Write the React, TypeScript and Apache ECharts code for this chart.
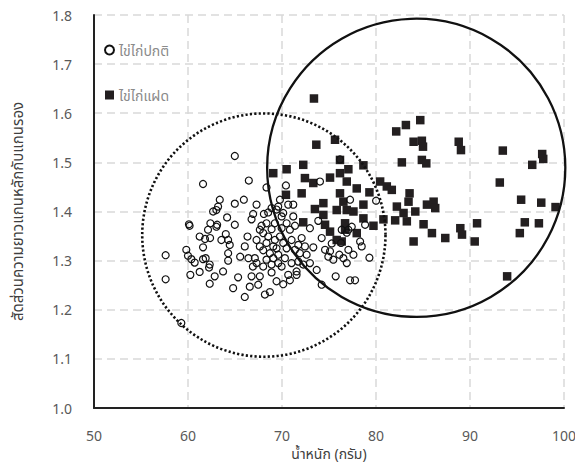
import React, { useEffect, useRef } from "react";
import * as echarts from "echarts";

const xTicks = { min: 50, max: 100, interval: 10 };
const yTicks = { min: 1.0, max: 1.8, interval: 0.1 };

const seriesNames = ["ไข่ไก่ปกติ", "ไข่ไก่แฝด"];
const xAxisName = "น้ำหนัก (กรัม)";
const yAxisName = "สัดส่วนความยาวแกนหลักกับแกนรอง";

// normal eggs: [weight, ratio]
const normalEggs = [
  [64.98,1.513],[61.6,1.456],[66.47,1.463],[57.62,1.311],[57.62,1.262],[59.29,1.173],[60.1,1.374],[60.17,1.371],
  [68.35,1.449],[70.42,1.453],[74.04,1.461],[76.17,1.506],[80.01,1.422],[79.3,1.306],[77.24,1.26],[77.77,1.26],
  [75.71,1.268],[74.22,1.251],[66.04,1.226],[68.18,1.231],[68.71,1.236],[64.8,1.244],[62.31,1.253],[60.25,1.271],
  [61.24,1.277],[62.84,1.268],[63.73,1.278],[65.33,1.266],[66.57,1.247],[67.47,1.251],[66.76,1.268],[67.64,1.268],
  [68.89,1.276],[69.42,1.258],[70.13,1.252],[70.84,1.26],[71.55,1.278],[59.82,1.322],[60.0,1.31],[60.36,1.303],
  [60.71,1.296],[61.6,1.303],[61.88,1.305],[62.24,1.286],[61.24,1.349],[61.81,1.344],[62.35,1.346],[61.6,1.327],
  [62.13,1.363],[62.38,1.376],[62.67,1.4],[63.1,1.373],[63.2,1.41],[63.38,1.424],[63.02,1.369],[63.55,1.342],
  [64.02,1.354],[64.27,1.342],[64.44,1.332],[64.16,1.388],[64.98,1.373],[64.98,1.416],[65.94,1.424],[64.27,1.315],
  [64.27,1.3],[65.55,1.308],[66.43,1.305],[66.9,1.288],[66.04,1.329],[66.33,1.349],[66.76,1.384],[66.93,1.395],
  [67.29,1.414],[67.64,1.363],[67.82,1.371],[68.07,1.395],[68.53,1.398],[68.35,1.376],[68.89,1.364],[67.29,1.342],
  [67.64,1.329],[68.0,1.321],[68.35,1.336],[68.71,1.315],[69.07,1.305],[69.42,1.325],[69.24,1.342],[69.78,1.349],
  [70.13,1.336],[69.6,1.295],[69.96,1.288],[68.35,1.302],[67.11,1.305],[68.89,1.407],[69.6,1.41],[70.13,1.397],
  [70.66,1.414],[71.2,1.414],[69.96,1.39],[70.49,1.376],[70.84,1.363],[71.2,1.39],[71.38,1.371],[71.02,1.342],
  [70.49,1.325],[71.38,1.322],[72.09,1.346],[72.44,1.329],[71.91,1.315],[72.62,1.312],[73.33,1.327],[73.69,1.281],
  [72.97,1.295],[72.26,1.292],[71.55,1.271],[70.66,1.271],[72.97,1.366],[73.86,1.381],[74.22,1.346],[74.58,1.322],
  [74.93,1.308],[75.29,1.335],[75.46,1.302],[76.1,1.312],[76.53,1.305],[76.89,1.295],[77.06,1.322],[77.6,1.312],
  [78.48,1.329],[78.84,1.373],[76.35,1.363],[76.89,1.357],[77.24,1.424],[76.28,1.336],
  [68.0,1.356],[68.53,1.349],[69.07,1.329],[69.6,1.312],[70.31,1.305],[68.89,1.292],[68.0,1.288],[67.29,1.295],
  [71.02,1.295],[71.73,1.332],[69.96,1.366],[69.24,1.376],[69.42,1.404],[69.78,1.424],
  [77.06,1.363],[77.42,1.369],[78.31,1.339],[75.11,1.319],[71.73,1.298],[62.31,1.292],[63.02,1.403]
];

// twin-yolk eggs: [weight, ratio]
const twinEggs = [
  [73.4,1.630],[82.15,1.563],[83.18,1.576],[84.71,1.586],[84.0,1.542],[84.88,1.544],[85.0,1.532],[88.8,1.542],
  [89.04,1.525],[93.49,1.524],[97.68,1.517],[97.79,1.507],[96.62,1.495],[82.75,1.500],[84.88,1.505],[85.35,1.498],
  [73.65,1.536],[75.64,1.546],[76.17,1.505],[78.66,1.494],[72.26,1.495],[70.49,1.486],[69.07,1.478],[93.17,1.459],
  [72.44,1.468],[73.33,1.458],[75.11,1.469],[76.17,1.478],[77.06,1.486],[76.89,1.461],[77.95,1.447],[79.3,1.439],
  [80.44,1.461],[81.15,1.451],[81.68,1.444],[83.57,1.437],[70.42,1.434],[72.09,1.437],[76.17,1.437],[74.4,1.417],
  [73.5,1.405],[75.82,1.403],[76.89,1.403],[77.6,1.4],[78.66,1.414],[82.22,1.41],[83.46,1.42],[84.18,1.4],
  [85.42,1.414],[86.13,1.42],[86.3,1.407],[95.44,1.424],[97.58,1.418],[99.1,1.409],[74.4,1.393],[72.26,1.378],
  [74.58,1.373],[76.71,1.376],[78.66,1.386],[79.73,1.371],[80.79,1.384],[82.04,1.382],[83.28,1.380],[85.06,1.374],
  [90.75,1.376],[90.5,1.339],[88.97,1.366],[89.15,1.353],[87.37,1.346],[85.95,1.356],[84.0,1.339],[75.11,1.359],
  [75.82,1.342],[77.95,1.356],[95.83,1.378],[97.33,1.376],[95.3,1.356],[93.95,1.268],[76.53,1.420],[76.71,1.363],
  [76.35,1.339],[82.93,1.397]
];

// enclosing circles: [centerX, centerY, radius in x units]
const normalCircle = [68.07, 1.352, 12.94];
const twinCircle = [84.28, 1.489, 15.86];

const FONT = "'Noto Sans', 'Noto Sans Thai', 'DejaVu Sans', sans-serif";

export default function App() {
  const ref = useRef<HTMLDivElement>(null);
  useEffect(() => {
    if (!ref.current) return;
    const chart = echarts.init(ref.current, null, { renderer: "svg" });
    const circleItem = (dashed: boolean) => (params: any, api: any) => {
      const c = api.coord([api.value(0), api.value(1)]);
      const r = api.size([api.value(2), 0])[0];
      return {
        type: "circle",
        shape: { cx: c[0], cy: c[1], r },
        style: {
          fill: "none",
          stroke: "#111",
          lineWidth: dashed ? 2.6 : 2.3,
          lineDash: dashed ? [2.2, 2.2] : null,
        },
      };
    };
    chart.setOption({
      animation: false,
      textStyle: { fontFamily: FONT },
      grid: { left: 94, right: 19, top: 15, bottom: 63, containLabel: false },
      legend: {
        data: seriesNames,
        orient: "vertical",
        left: 99,
        top: 38,
        itemGap: 31,
        itemWidth: 9,
        itemHeight: 9,
        textStyle: { color: "#8a8a8a", fontSize: 14, fontFamily: FONT },
      },
      xAxis: {
        type: "value",
        min: xTicks.min,
        max: xTicks.max,
        interval: xTicks.interval,
        name: xAxisName,
        nameLocation: "middle",
        nameGap: 38,
        nameTextStyle: { color: "#404040", fontSize: 14, fontFamily: FONT },
        axisLine: { show: true, lineStyle: { color: "#222", width: 2 } },
        axisTick: { show: false },
        axisLabel: { color: "#595959", fontSize: 14, margin: 20, fontFamily: FONT },
        splitLine: { show: true, lineStyle: { color: "#d9d9d9", width: 1.5, type: [8, 5] } },
      },
      yAxis: {
        type: "value",
        min: yTicks.min,
        max: yTicks.max,
        interval: yTicks.interval,
        name: yAxisName,
        nameLocation: "middle",
        nameRotate: 90,
        nameGap: 70,
        nameTextStyle: { color: "#404040", fontSize: 15, fontFamily: FONT },
        axisLine: { show: true, lineStyle: { color: "#222", width: 2 } },
        axisTick: { show: false },
        axisLabel: {
          color: "#595959",
          fontSize: 14,
          margin: 22,
          fontFamily: FONT,
          formatter: (v: number) => v.toFixed(1),
        },
        splitLine: { show: true, lineStyle: { color: "#d9d9d9", width: 1.5, type: [8, 5] } },
      },
      series: [
        {
          name: seriesNames[1],
          type: "scatter",
          symbol: "rect",
          symbolSize: 8.5,
          z: 2,
          itemStyle: { color: "#231f20", opacity: 1 },
          data: twinEggs,
        },
        {
          name: seriesNames[0],
          type: "scatter",
          symbol: "circle",
          symbolSize: 7,
          z: 3,
          itemStyle: { color: "rgba(255,255,255,0)", borderColor: "#111", borderWidth: 1.2, opacity: 1 },
          data: normalEggs,
        },
        {
          type: "custom",
          name: "normalCircle",
          clip: false,
          z: 4,
          silent: true,
          renderItem: circleItem(true),
          data: [normalCircle],
        },
        {
          type: "custom",
          name: "twinCircle",
          clip: false,
          z: 4,
          silent: true,
          renderItem: circleItem(false),
          data: [twinCircle],
        },
      ],
    });
    return () => chart.dispose();
  }, []);
  return <div ref={ref} style={{ width: 583, height: 471, margin: -8 }} />;
}
